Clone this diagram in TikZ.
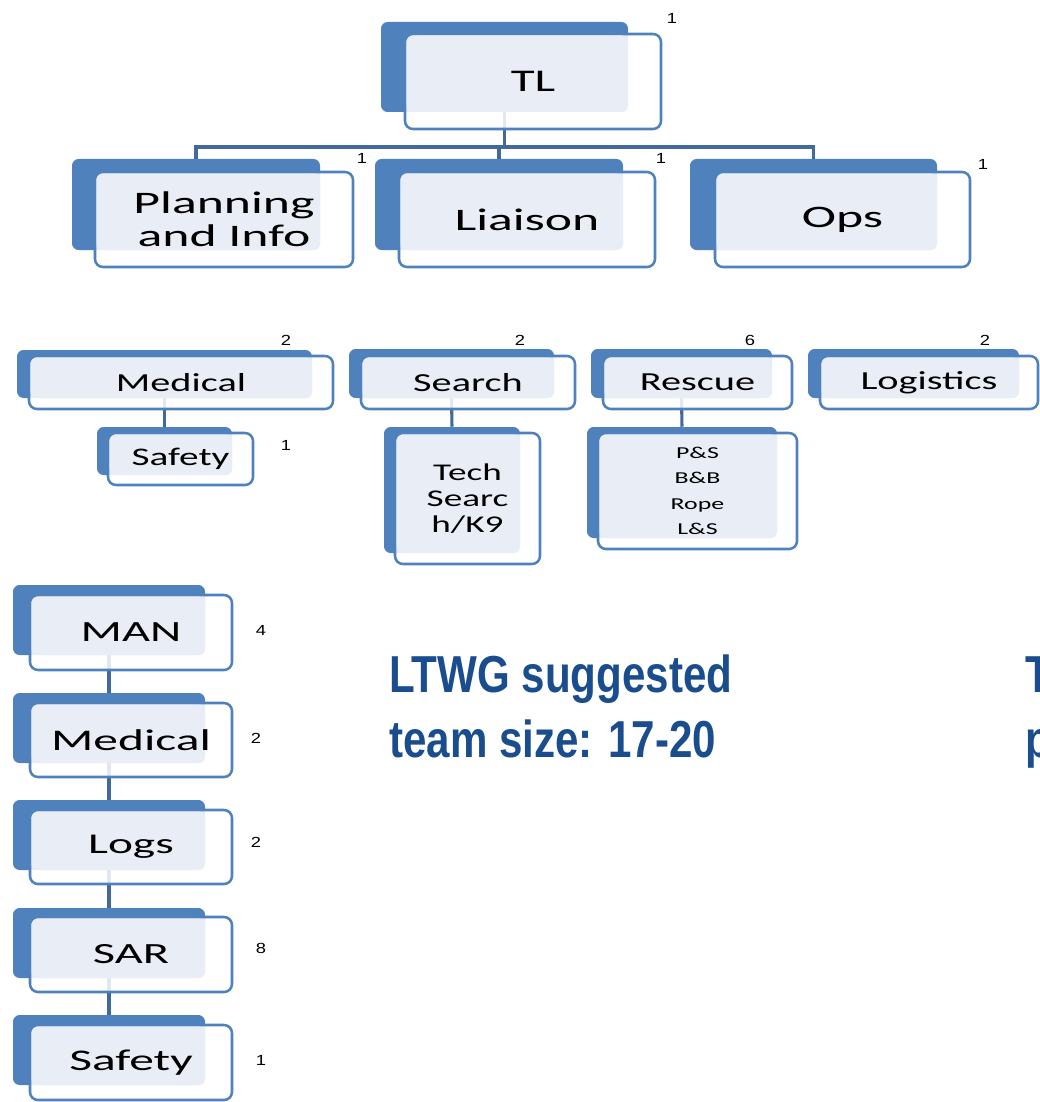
\documentclass[tikz,border=0pt]{standalone}
\usepackage{fontspec}
\usetikzlibrary{fit,calc}
\newfontfamily\boxfont[FakeStretch=1.55]{Carlito}
\newfontfamily\wideboxfont[FakeStretch=1.65]{Carlito}
\newfontfamily\numfont[FakeStretch=1.25]{Liberation Sans}
\newfontfamily\bigfont[FakeStretch=0.81]{Liberation Sans}
\definecolor{bk}{HTML}{4F81BD}
\definecolor{lt}{HTML}{E9EEF6}
\definecolor{cn}{HTML}{41699B}
\definecolor{tb}{HTML}{1A4D8D}
\tikzset{
  backbox/.style={fill=bk, rounded corners=5pt, inner sep=0pt, draw=none},
  frontbox/.style={draw=bk, line width=1.9pt, fill=white, fill opacity=0.85, draw opacity=1, rounded corners=6pt, inner sep=0pt},
  lightfill/.style={fill=lt, rounded corners=5pt},
  conn/.style={draw=cn, line width=2.3pt},
  num/.style={font=\numfont\fontsize{11pt}{12pt}\selectfont, inner sep=0pt},
  lbl/.style={align=center, inner sep=0pt, text=black},
  bigtext/.style={font=\bigfont\bfseries\fontsize{39pt}{46pt}\selectfont, text=tb, inner sep=0pt, anchor=base west},
}
\newcommand\backunit[5]{\node[backbox, fit={(#2,#3) (#4,#5)}] (#1b) {};}
\newcommand\frontunit[7]{%
  \node[frontbox, fit={(#2,#3) (#4,#5)}] (#1f) {};
  \fill[lightfill] (#2+1.5,#3+1.5) rectangle (#6,#7);}
\begin{document}
\begin{tikzpicture}[x=0.75pt,y=-0.75pt]
\useasboundingbox[fill=white] (0,0) rectangle (1039,1102);
% back boxes
\backunit{tl}{381}{22}{628}{112}
\backunit{plan}{72}{159}{320}{250}
\backunit{lia}{375}{159}{623}{250}
\backunit{ops}{690}{159}{937}{250}
\backunit{med}{17}{350}{312}{398}
\backunit{saf}{97}{427}{232}{475}
\backunit{sea}{349}{349}{554}{398}
\backunit{tech}{384}{427}{520}{553}
\backunit{res}{591}{349}{772}{398}
\backunit{rsub}{587}{427}{777}{538}
\backunit{log}{808}{349}{1019}{398}
\backunit{cman}{13}{585}{205}{655}
\backunit{cmed}{13}{693}{205}{763}
\backunit{clog}{13}{800}{205}{870}
\backunit{csar}{13}{908}{205}{978}
\backunit{csaf}{13}{1015}{205}{1085}
% connectors
\coordinate (bar) at (0,147);
\draw[conn] (tlb.south) |- (planb.north |- bar) -- (planb.north);
\draw[conn] (tlb.south) |- (liab.north |- bar) -- (liab.north);
\draw[conn] (tlb.south) |- (opsb.north |- bar) -- (opsb.north);
\draw[conn] (medb.south) -- (safb.north);
\draw[conn] (seab.south) -- (techb.north);
\draw[conn] (resb.south) -- (rsubb.north);
\draw[conn] (cmanb.south) -- (cmedb.north);
\draw[conn] (cmedb.south) -- (clogb.north);
\draw[conn] (clogb.south) -- (csarb.north);
\draw[conn] (csarb.south) -- (csafb.north);
% front boxes
\frontunit{tl}{405}{34}{661}{129}{628}{112}
\frontunit{plan}{95}{172}{353}{267}{320}{250}
\frontunit{lia}{399}{172}{655}{267}{623}{250}
\frontunit{ops}{715}{172}{970}{267}{937}{250}
\frontunit{med}{29}{356}{333}{409}{312}{398}
\frontunit{saf}{108}{433}{253}{485}{232}{475}
\frontunit{sea}{361}{356}{575}{409}{554}{398}
\frontunit{tech}{395}{433}{540}{564}{520}{553}
\frontunit{res}{603}{356}{792}{409}{772}{398}
\frontunit{rsub}{598}{433}{797}{549}{777}{538}
\frontunit{log}{820}{356}{1038}{409}{1019}{398}
\frontunit{cman}{30}{595}{232}{670}{205}{655}
\frontunit{cmed}{30}{703}{232}{777}{205}{763}
\frontunit{clog}{30}{810}{232}{884}{205}{870}
\frontunit{csar}{30}{917}{232}{992}{205}{978}
\frontunit{csaf}{30}{1025}{232}{1100}{205}{1085}
% labels
\node[lbl, font=\boxfont\fontsize{23.7pt}{28pt}\selectfont] (tlt) at (tlf.center) {TL};
\node[lbl, font=\wideboxfont\fontsize{23.5pt}{25pt}\selectfont] (plant) at (planf.center) {Planning\\and Info};
\node[lbl, font=\wideboxfont\fontsize{23.5pt}{25pt}\selectfont] (liat) at (liaf.center) {Liaison};
\node[lbl, font=\wideboxfont\fontsize{23.5pt}{25pt}\selectfont] (opst) at (opsf.center) {Ops};
\node[lbl, font=\boxfont\fontsize{19.5pt}{23pt}\selectfont] (medt) at (medf.center) {Medical};
\node[lbl, font=\boxfont\fontsize{19pt}{23pt}\selectfont] (saft) at (saff.center) {Safety};
\node[lbl, font=\boxfont\fontsize{19.5pt}{23pt}\selectfont] (seat) at (seaf.center) {Search};
\node[lbl, font=\boxfont\fontsize{18pt}{19.5pt}\selectfont] (techt) at (techf.center) {Tech\\Searc\\h/K9};
\node[lbl, font=\boxfont\fontsize{19.5pt}{23pt}\selectfont] (rest) at (resf.center) {Rescue};
\node[lbl, font=\boxfont\fontsize{12.5pt}{19pt}\selectfont] (rsubt) at (rsubf.center) {P\&S\\B\&B\\Rope\\L\&S};
\node[lbl, font=\boxfont\fontsize{19.5pt}{23pt}\selectfont] (logt) at (logf.center) {Logistics};
\node[lbl, font=\wideboxfont\fontsize{22pt}{25pt}\selectfont] (cmant) at (cmanf.center) {MAN};
\node[lbl, font=\wideboxfont\fontsize{22.5pt}{25pt}\selectfont] (cmedt) at (cmedf.center) {Medical};
\node[lbl, font=\wideboxfont\fontsize{21.5pt}{25pt}\selectfont] (clogt) at (clogf.center) {Logs};
\node[lbl, font=\wideboxfont\fontsize{22pt}{25pt}\selectfont] (csart) at (csarf.center) {SAR};
\node[lbl, font=\wideboxfont\fontsize{22.5pt}{25pt}\selectfont] (csaft) at (csaff.center) {Safety};
% numbers
\node[num] (n1) at (672,18) {1};
\node[num] (n2) at (362,158) {1};
\node[num] (n3) at (661,158) {1};
\node[num] (n4) at (983,164) {1};
\node[num] (n5) at (286,340) {2};
\node[num] (n6) at (286,445) {1};
\node[num] (n7) at (520,340) {2};
\node[num] (n8) at (750,340) {6};
\node[num] (n9) at (985,340) {2};
\node[num] (n10) at (261,630) {4};
\node[num] (n11) at (256,738) {2};
\node[num] (n12) at (256,842) {2};
\node[num] (n13) at (261,948) {8};
\node[num] (n14) at (261,1060) {1};
% big text
\node[bigtext] (big1) at (389,692) {LTWG suggested};
\node[bigtext] (big2) at (389,757) {team size: 17-20};
\node[bigtext] (big3) at (1025,692) {T};
\node[bigtext] (big4) at (1025,757) {p};
\end{tikzpicture}
\end{document}
